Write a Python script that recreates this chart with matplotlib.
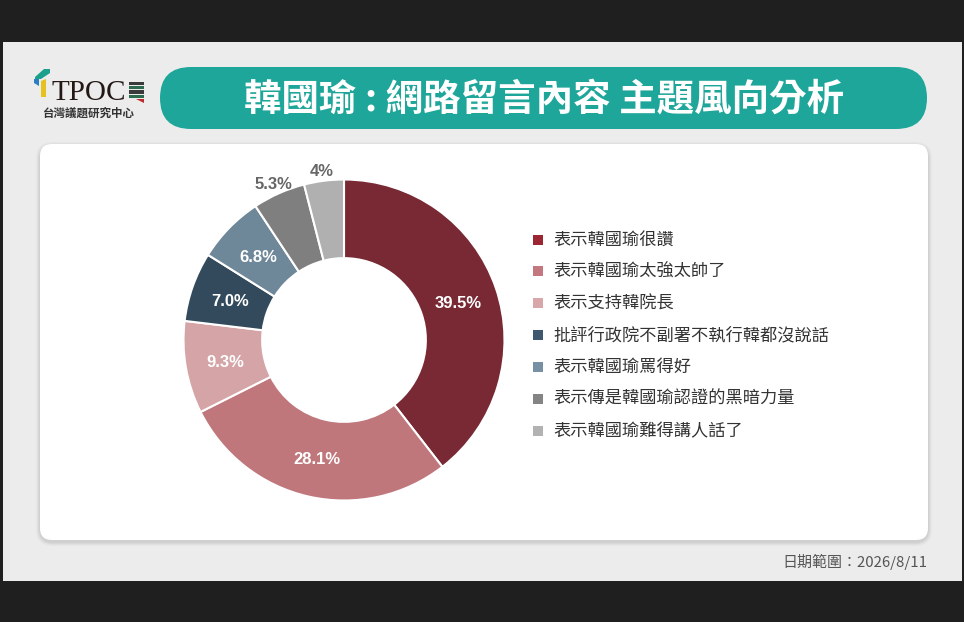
import matplotlib
matplotlib.use("Agg")
import matplotlib.pyplot as plt
from matplotlib.patches import FancyBboxPatch, Rectangle, Polygon
import numpy as np

plt.rcParams['font.family'] = ['Noto Sans CJK TC', 'DejaVu Sans']

# ---- data ----
title = "韓國瑜 : 網路留言內容 主題風向分析"
categories = ["表示韓國瑜很讚", "表示韓國瑜太強太帥了", "表示支持韓院長",
              "批評行政院不副署不執行韓都沒說話", "表示韓國瑜罵得好",
              "表示傳是韓國瑜認證的黑暗力量", "表示韓國瑜難得講人話了"]
values = [39.5, 28.1, 9.3, 7.0, 6.8, 5.3, 4.0]
pct_labels = ["39.5%", "28.1%", "9.3%", "7.0%", "6.8%", "5.3%", "4%"]
pie_colors = ["#782934", "#bf777c", "#d4a4a7", "#334a5c", "#6e8799", "#7f7f7f", "#b0b0b0"]
legend_colors = ["#9c2733", "#c2787e", "#d8a7aa", "#3e5870", "#7890a4", "#848484", "#b2b2b2"]
date_text = "日期範圍：2026/8/11"

W, H = 964, 622
fig = plt.figure(figsize=(W / 100, H / 100), dpi=100)
fig.patch.set_facecolor("#1f1f1f")

bg = fig.add_axes([0, 0, 1, 1])
bg.set_xlim(0, W)
bg.set_ylim(H, 0)
bg.axis("off")

# light gray page
bg.add_patch(Rectangle((3, 42), 959, 539, facecolor="#ececec", edgecolor="none", zorder=0))

# card shadow + card
for i, a in enumerate([0.025, 0.025, 0.03, 0.035]):
    g = 5 - i
    bg.add_patch(FancyBboxPatch((40 - g + 1, 144 - g + 3), 888 + 2 * g - 2, 396 + 2 * g - 2,
                                boxstyle="round,pad=0,rounding_size=%d" % (12 + g),
                                facecolor="black", alpha=a, edgecolor="none", zorder=1))
bg.add_patch(FancyBboxPatch((40, 144), 888, 396, boxstyle="round,pad=0,rounding_size=12",
                            facecolor="white", edgecolor="none", zorder=2))

# title pill
bg.add_patch(FancyBboxPatch((160, 67), 767, 62, boxstyle="round,pad=0,rounding_size=31",
                            facecolor="#1fa69a", edgecolor="none", zorder=2))
bg.text(544, 99, title, color="white", fontsize=27, fontweight="bold",
        ha="center", va="center", zorder=3)

# logo
bg.add_patch(Polygon([[35, 77], [44, 69], [50, 69], [50, 73], [41, 79], [35, 79]],
                     closed=True, facecolor="#1aa08c", edgecolor="none", zorder=3))
bg.add_patch(Polygon([[34, 79], [39, 79], [39, 86], [34, 83]], closed=True,
                     facecolor="#2a7fc4", edgecolor="none", zorder=3))
bg.add_patch(Polygon([[41, 81], [46, 79], [46, 97], [41, 97]], closed=True,
                     facecolor="#e5c21f", edgecolor="none", zorder=3))
bg.text(51, 100, "TPOC", fontsize=21, family=["Liberation Serif", "DejaVu Serif"],
        color="#231815", ha="left", va="baseline", zorder=3)
for k in range(4):
    bg.add_patch(Rectangle((129, 82 + k * 4.2), 15, 3.2,
                           facecolor=["#3a3a3a", "#2d6b4f", "#3a3a3a", "#2d6b4f"][k],
                           edgecolor="none", zorder=3))
bg.add_patch(Polygon([[136, 99], [144, 99], [144, 103]], closed=True,
                     facecolor="#c0282d", edgecolor="none", zorder=3))
bg.text(88.5, 113, "台灣議題研究中心", fontsize=8.3, fontweight="bold", color="#333333",
        ha="center", va="center", zorder=3)

# legend
for i, (cat, col) in enumerate(zip(categories, legend_colors)):
    yy = 239.5 + i * 31.9
    bg.add_patch(Rectangle((533, yy - 5), 10, 10, facecolor=col, edgecolor="none", zorder=3))
    bg.text(553, yy, cat, fontsize=12.4, color="#333333", ha="left", va="center", zorder=3)

# date
bg.text(927, 562, date_text, fontsize=10.8, color="#555555", ha="right", va="center", zorder=3)

# donut
cx, cy, r = 344, 340, 160.5
pax = fig.add_axes([(cx - r) / W, (H - cy - r) / H, 2 * r / W, 2 * r / H])
wedges, _ = pax.pie(values, colors=pie_colors, startangle=90, counterclock=False,
                    radius=1, wedgeprops=dict(width=0.49, edgecolor="white", linewidth=1.5))
pax.set_xlim(-1, 1)
pax.set_ylim(-1, 1)
pax.set_aspect("auto")
pax.axis("off")
for w, lab, v in zip(wedges, pct_labels, values):
    th = np.deg2rad((w.theta1 + w.theta2) / 2)
    if v < 6:
        rr, col, dy = 1.085, "#666666", -4 / r
    else:
        rr, col, dy = 0.75, "white", -2 / r
    pax.text(rr * np.cos(th), rr * np.sin(th) + dy, lab, color=col, fontsize=12,
             fontweight="bold", family=["Liberation Sans", "DejaVu Sans"],
             ha="center", va="center")

fig.savefig("out.png", dpi=100, facecolor=fig.get_facecolor())
